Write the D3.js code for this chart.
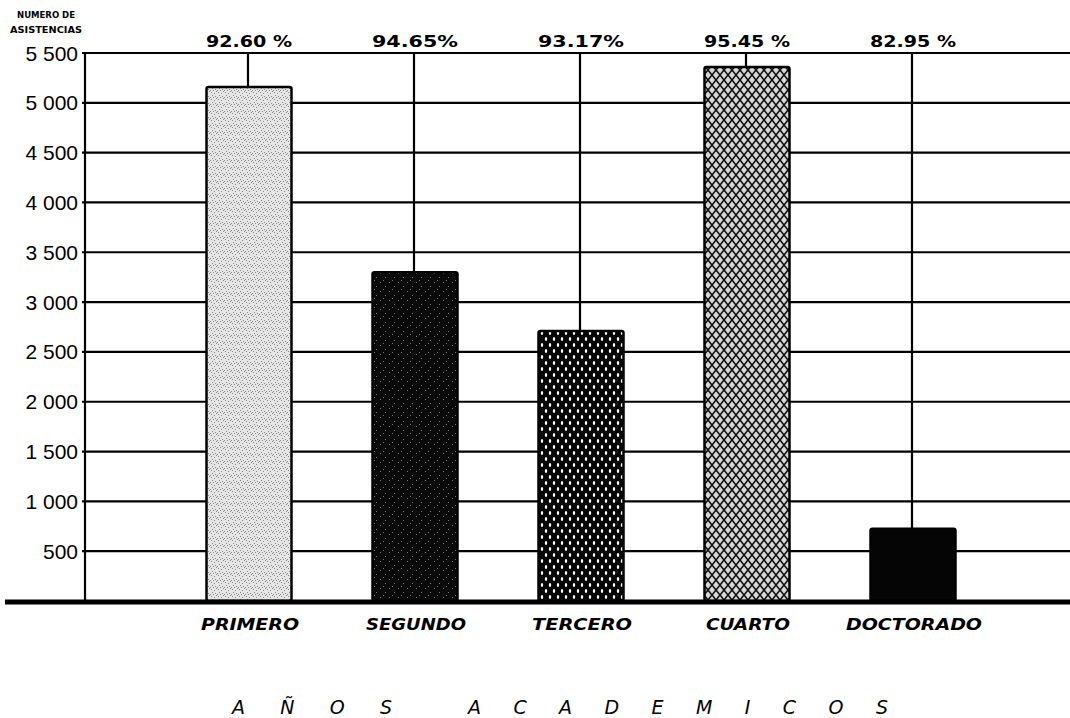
<!DOCTYPE html>
<html>
<head>
<meta charset="utf-8">
<script src="https://cdn.jsdelivr.net/npm/d3@7"></script>
<style>
  html, body { margin: 0; padding: 0; background: #fff; }
  svg { display: block; }
</style>
</head>
<body>
<svg id="chart" width="1070" height="718"></svg>
<script>
// ---- data ----
const categories = ["PRIMERO", "SEGUNDO", "TERCERO", "CUARTO", "DOCTORADO"];
const asistencias = [5160, 3300, 2710, 5360, 725];
const percentLabels = ["92.60 %", "94.65%", "93.17%", "95.45 %", "82.95 %"];
const yTicks = [500, 1000, 1500, 2000, 2500, 3000, 3500, 4000, 4500, 5000, 5500];
const yTickLabels = ["500", "1 000", "1 500", "2 000", "2 500", "3 000", "3 500", "4 000", "4 500", "5 000", "5 500"];
const yTitle = ["NUMERO DE", "ASISTENCIAS"];
const xTitleWords = ["AÑOS", "ACADEMICOS"];
const fills = ["url(#pPrimero)", "url(#pSegundo)", "url(#pTercero)", "url(#pCuarto)", "#050505"];

// ---- layout ----
const svg = d3.select("#chart");
const axisX = 85, chartRight = 1070, baseY = 601, topY = 53;
const barW = 85;

const y = d3.scaleLinear().domain([0, 5500]).range([baseY, topY]);
const x = d3.scalePoint().domain(categories).range([249, 913]);

// ---- patterns ----
const defs = svg.append("defs");
// light stipple
let p = defs.append("pattern").attr("id", "pPrimero").attr("patternUnits", "userSpaceOnUse")
  .attr("width", 7).attr("height", 7);
p.append("rect").attr("width", 7).attr("height", 7).attr("fill", "#e6e6e6");
[[1,1],[4,2],[2,4],[5,5],[6,0],[0,6],[3,6]].forEach(([a,b]) =>
  p.append("rect").attr("x", a).attr("y", b).attr("width", 1).attr("height", 1).attr("fill", "#888"));
// dark speckled
p = defs.append("pattern").attr("id", "pSegundo").attr("patternUnits", "userSpaceOnUse")
  .attr("width", 9).attr("height", 9);
p.append("rect").attr("width", 9).attr("height", 9).attr("fill", "#0a0a0a");
[[2,3],[7,7],[5,1]].forEach(([a,b]) =>
  p.append("rect").attr("x", a).attr("y", b).attr("width", 1).attr("height", 1).attr("fill", "#777"));
// black with white dots
p = defs.append("pattern").attr("id", "pTercero").attr("patternUnits", "userSpaceOnUse")
  .attr("width", 8).attr("height", 12);
p.append("rect").attr("width", 8).attr("height", 12).attr("fill", "#050505");
p.append("ellipse").attr("cx", 2).attr("cy", 3).attr("rx", 1.2).attr("ry", 2).attr("fill", "#fff");
p.append("ellipse").attr("cx", 6).attr("cy", 9).attr("rx", 1.2).attr("ry", 2).attr("fill", "#fff");
// diamond mesh
p = defs.append("pattern").attr("id", "pCuarto").attr("patternUnits", "userSpaceOnUse")
  .attr("width", 8).attr("height", 10);
p.append("rect").attr("width", 8).attr("height", 10).attr("fill", "#d8d8d8");
p.append("path").attr("d", "M0,5 L4,0 L8,5 L4,10 Z").attr("fill", "none")
  .attr("stroke", "#111").attr("stroke-width", 1.6);

// ---- grid ----
const g = svg.append("g");
g.selectAll("line.grid").data(yTicks).join("line")
  .attr("class", "grid")
  .attr("x1", axisX - 3).attr("x2", chartRight)
  .attr("y1", d => y(d)).attr("y2", d => y(d))
  .attr("stroke", "#000").attr("stroke-width", 2.2);

// left axis line
g.append("line").attr("x1", axisX).attr("x2", axisX)
  .attr("y1", y(5500) - 1).attr("y2", baseY)
  .attr("stroke", "#000").attr("stroke-width", 2.2);

// vertical lines at category centers
g.selectAll("line.vert").data(categories).join("line")
  .attr("class", "vert")
  .attr("x1", d => x(d) - 1).attr("x2", d => x(d) - 1)
  .attr("y1", y(5500)).attr("y2", baseY)
  .attr("stroke", "#000").attr("stroke-width", 2.2);

// tick labels
g.selectAll("text.tick").data(yTicks).join("text")
  .attr("class", "tick")
  .attr("x", 78).attr("y", d => y(d) + 7.5)
  .attr("text-anchor", "end")
  .attr("font-family", "Liberation Sans, Arial, sans-serif")
  .attr("font-size", 21)
  .attr("fill", "#000")
  .text((d, i) => yTickLabels[i]);

// y title
g.selectAll("text.ytitle").data(yTitle).join("text")
  .attr("class", "ytitle")
  .attr("x", 46).attr("y", (d, i) => 18 + i * 15)
  .attr("text-anchor", "middle")
  .attr("font-family", "DejaVu Sans, sans-serif")
  .attr("font-weight", "bold")
  .attr("font-size", 8.5)
  .attr("fill", "#000")
  .attr("textLength", (d, i) => i === 0 ? 58 : 72)
  .attr("lengthAdjust", "spacingAndGlyphs")
  .text(d => d);

// bars
g.selectAll("rect.bar").data(categories).join("rect")
  .attr("class", "bar")
  .attr("x", d => x(d) - barW / 2)
  .attr("width", barW)
  .attr("y", (d, i) => y(asistencias[i]))
  .attr("height", (d, i) => baseY - y(asistencias[i]))
  .attr("fill", (d, i) => fills[i])
  .attr("stroke", "#000").attr("stroke-width", 2.5)
  .attr("rx", 2);

// baseline (thick)
g.append("line").attr("x1", 5).attr("x2", chartRight)
  .attr("y1", baseY + 1).attr("y2", baseY + 1)
  .attr("stroke", "#000").attr("stroke-width", 5);

// percent labels
g.selectAll("text.pct").data(categories).join("text")
  .attr("class", "pct")
  .attr("x", d => x(d))
  .attr("y", 47)
  .attr("text-anchor", "middle")
  .attr("font-family", "DejaVu Sans, sans-serif")
  .attr("font-weight", "bold")
  .attr("font-size", 15)
  .attr("fill", "#000")
  .attr("textLength", 86)
  .attr("lengthAdjust", "spacingAndGlyphs")
  .text((d, i) => percentLabels[i]);

// category labels
const catWidths = [98, 100, 100, 84, 136];
g.selectAll("text.cat").data(categories).join("text")
  .attr("class", "cat")
  .attr("x", d => x(d) + 1)
  .attr("y", 630)
  .attr("text-anchor", "middle")
  .attr("font-family", "DejaVu Sans, sans-serif")
  .attr("font-weight", "bold")
  .attr("font-style", "italic")
  .attr("font-size", 15)
  .attr("fill", "#000")
  .attr("textLength", (d, i) => catWidths[i])
  .attr("lengthAdjust", "spacingAndGlyphs")
  .text(d => d);

// x title
const titleStarts = [232, 468];
const titleLens = [160, 420];
g.selectAll("text.xtitle").data(xTitleWords).join("text")
  .attr("class", "xtitle")
  .attr("x", (d, i) => titleStarts[i])
  .attr("y", 714)
  .attr("font-family", "DejaVu Sans, sans-serif")
  .attr("font-style", "italic")
  .attr("font-size", 19)
  .attr("fill", "#000")
  .attr("textLength", (d, i) => titleLens[i])
  .attr("lengthAdjust", "spacing")
  .text(d => d);
</script>
</body>
</html>
